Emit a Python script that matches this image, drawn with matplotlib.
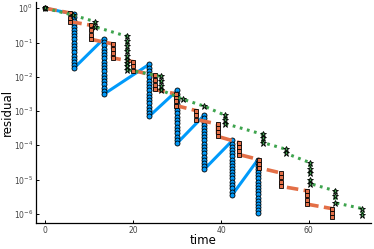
import numpy as np
import matplotlib
matplotlib.use("Agg")
import matplotlib.pyplot as plt
from matplotlib.ticker import NullLocator, FixedLocator

# outer-iteration times and log10(residual) of the inner iterates at each time
blue_times = [0, 6.5, 13.3, 23.6, 30.0, 36.2, 42.6, 48.4]
blue_log10 = [
    [0.0],
    [-0.17, -0.26, -0.36, -0.45, -0.54, -0.63, -0.73, -0.82, -0.91, -1.01, -1.10, -1.19, -1.28, -1.38, -1.47, -1.56, -1.66, -1.75],
    [-0.89, -0.99, -1.08, -1.18, -1.27, -1.37, -1.46, -1.56, -1.65, -1.75, -1.84, -1.94, -2.03, -2.13, -2.22, -2.32, -2.41, -2.51],
    [-1.64, -1.74, -1.83, -1.93, -2.02, -2.12, -2.21, -2.31, -2.40, -2.50, -2.59, -2.69, -2.78, -2.88, -2.97, -3.07, -3.16],
    [-2.40, -2.50, -2.59, -2.69, -2.79, -2.88, -2.98, -3.07, -3.17, -3.27, -3.36, -3.46, -3.56, -3.65, -3.75, -3.84, -3.94],
    [-3.12, -3.21, -3.31, -3.40, -3.49, -3.58, -3.68, -3.77, -3.86, -3.96, -4.05, -4.14, -4.23, -4.33, -4.42, -4.51, -4.61, -4.70],
    [-3.86, -3.95, -4.05, -4.14, -4.23, -4.32, -4.42, -4.51, -4.60, -4.70, -4.79, -4.88, -4.97, -5.07, -5.16, -5.25, -5.35, -5.44],
    [-4.42, -4.51, -4.60, -4.70, -4.79, -4.88, -4.97, -5.06, -5.16, -5.25, -5.34, -5.43, -5.53, -5.62, -5.71, -5.80, -5.90, -5.99],
]

orange_times = [0, 5.7, 10.5, 15.3, 20.0, 24.9, 29.7, 34.4, 39.2, 44.1, 48.7, 53.7, 59.6, 65.3]
orange_log10 = [
    [0.0],
    [-0.14, -0.27, -0.39],
    [-0.50, -0.63, -0.78, -0.91],
    [-1.04, -1.18, -1.31, -1.45],
    [-1.56, -1.69, -1.82],
    [-1.96, -2.10, -2.23, -2.37],
    [-2.50, -2.62, -2.72, -2.84],
    [-2.99, -3.12, -3.25],
    [-3.38, -3.50, -3.62, -3.74],
    [-3.92, -4.04, -4.16, -4.27],
    [-4.42, -4.54, -4.66],
    [-4.81, -4.94, -5.07, -5.20],
    [-5.33, -5.46, -5.59, -5.72],
    [-5.85, -5.97, -6.10],
]

green_times = [0, 6.3, 11.3, 18.6, 26.3, 31.4, 36.2, 41.0, 49.5, 54.9, 60.3, 66.0, 72.2]
green_log10 = [
    [0.0],
    [-0.20],
    [-0.39, -0.54],
    [-0.82, -0.96, -1.10, -1.25, -1.38, -1.50, -1.60, -1.70, -1.79],
    [-1.99, -2.13, -2.26, -2.39],
    [-2.66],
    [-2.86],
    [-3.13, -3.25, -3.37],
    [-3.68, -3.80, -3.92],
    [-4.12, -4.24],
    [-4.51, -4.68, -4.82, -5.00, -5.12],
    [-5.33, -5.49, -5.68],
    [-5.85, -6.04],
]

x_ticks = [0, 20, 40, 60]
y_ticks = [1e0, 1e-1, 1e-2, 1e-3, 1e-4, 1e-5, 1e-6]


def flatten(times, logs):
    x = np.repeat(times, [len(s) for s in logs])
    y = 10.0 ** np.concatenate(logs)
    return x, y


fig = plt.figure(figsize=(3.74, 2.49), dpi=100)
ax = fig.add_axes([0.096, 0.103, 0.896, 0.889])

x, y = flatten(blue_times, blue_log10)
ax.plot(x, y, color="#009AFA", lw=2.2, marker="o", ms=3.6,
        mfc="#009AFA", mec="black", mew=0.6, zorder=2)

x, y = flatten(orange_times, orange_log10)
ax.plot(x, y, color="#E36F47", lw=2.6, ls=(0, (3.2, 1.5)), dash_capstyle="butt",
        marker="s", ms=3.5, mfc="#E36F47", mec="black", mew=0.6, zorder=3)

x, y = flatten(green_times, green_log10)
ax.plot(x, y, color="#3EA44E", lw=2.2, ls=(0, (0.9, 1.5)), dash_capstyle="butt",
        marker="*", ms=4.5, mfc="#3EA44E", mec="black", mew=0.6, zorder=4)

ax.set_yscale("log")
ax.set_xlim(-2.16, 74.16)
ax.set_ylim(10 ** -6.28, 10 ** 0.183)
ax.set_xticks(x_ticks)
ax.yaxis.set_major_locator(FixedLocator(y_ticks))
ax.yaxis.set_minor_locator(NullLocator())

ax.spines["top"].set_visible(False)
ax.spines["right"].set_visible(False)
for s in ("left", "bottom"):
    ax.spines[s].set_linewidth(0.9)
ax.tick_params(direction="in", length=2.5, width=0.7, labelsize=5.5,
               labelcolor="#444444", pad=2)

ax.set_xlabel("time", fontsize=8.5, labelpad=-1)
ax.set_ylabel("residual", fontsize=8.5, labelpad=0)

fig.savefig("out.png", dpi=100)
